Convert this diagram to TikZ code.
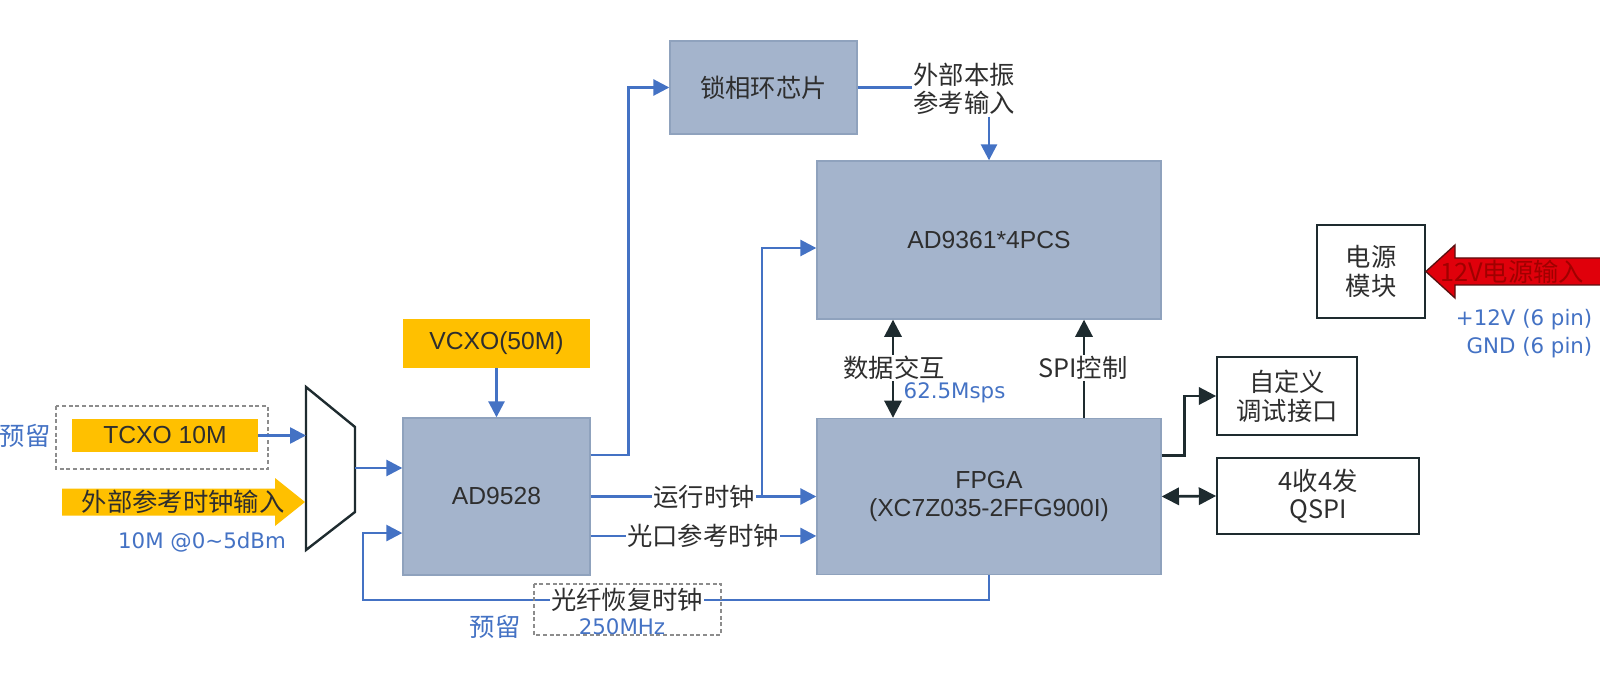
\documentclass[tikz,border=0pt]{standalone}
\usepackage{fontspec}
\setmainfont{Liberation Sans}
\newfontfamily\cjk{Noto Sans CJK SC}
\newfontfamily\bluefont{DejaVu Sans}
\usetikzlibrary{arrows.meta,calc}
\definecolor{boxblue}{HTML}{A4B4CC}
\definecolor{boxedge}{HTML}{8FA2BD}
\definecolor{gold}{HTML}{FFC000}
\definecolor{lineblue}{HTML}{4472C4}
\definecolor{darkc}{HTML}{1E2B2F}
\definecolor{txt}{HTML}{2E2E2E}
\definecolor{redarrow}{HTML}{E0000B}
\definecolor{redtxt}{HTML}{A00000}
\definecolor{redline}{HTML}{5A1010}
\definecolor{dashgray}{HTML}{8C8C8C}
\begin{document}
\begin{tikzpicture}[x=0.75pt,y=-0.75pt,
 cn/.style={font=\cjk\fontsize{19}{21.5}\selectfont, text=txt},
 ln/.style={font=\fontsize{18.5}{21.5}\selectfont, text=txt},
 bn/.style={font=\bluefont\fontsize{16}{19}\selectfont, text=lineblue},
 bcn/.style={font=\cjk\fontsize{19}{21.5}\selectfont, text=lineblue},
 chip/.style={draw=boxedge, line width=1pt, fill=boxblue, inner sep=0pt, align=center},
 osc/.style={fill=gold, inner sep=0pt},
 wbox/.style={draw=darkc, line width=1.3pt, fill=white, inner sep=0pt, align=center},
 bl/.style={draw=lineblue, line width=2pt, -{Triangle[length=12pt,width=12pt]}},
 blp/.style={draw=lineblue, line width=2pt},
 dk/.style={draw=darkc, line width=2pt, -{Triangle[length=13pt,width=13pt]}},
 dkk/.style={draw=darkc, line width=2pt, {Triangle[length=13pt,width=13pt]}-{Triangle[length=13pt,width=13pt]}},
 lab/.style={cn, fill=white, inner sep=1pt},
 dbox/.style={draw=dashgray, line width=1pt, dash pattern=on 3pt off 2pt}
]
\useasboundingbox (0,0) rectangle (1600,677);

% chips
\node[chip, cn, minimum width=140.25pt, minimum height=69.75pt] (pll) at (763.5,87.5) {锁相环芯片};
\node[chip, ln, minimum width=258pt, minimum height=118.5pt] (ad9361) at (989,240) {AD9361*4PCS};
\node[chip, ln, minimum width=258pt, minimum height=117pt] (fpga) at (989,496.5) {FPGA\\(XC7Z035-2FFG900I)};
\node[chip, ln, minimum width=140.25pt, minimum height=117.75pt] (ad9528) at (496.5,496.5) {AD9528};
\node[osc, ln, minimum width=140.25pt, minimum height=36.75pt] (vcxo) at (496.5,343.5) {VCXO(50M)};
\draw[dbox] (56,406) rectangle (268,469);
\node[osc, ln, minimum width=139.5pt, minimum height=24.75pt] (tcxo) at (165,435.5) {TCXO 10M};
\node[wbox, cn, minimum width=105pt, minimum height=58.5pt] (debug) at (1287,396) {自定义\\调试接口};
\node[wbox, cn, minimum width=151.5pt, minimum height=57pt] (qspi) at (1318,496) {4收4发\\QSPI};
\node[wbox, cn, minimum width=81pt, minimum height=69.75pt] (power) at (1371,271.5) {电源\\模块};

% mux
\draw[draw=darkc, line width=1.8pt, fill=white] (306,387) -- (355,427) -- (355,512) -- (306,550) -- cycle;
\coordinate (muxA) at (306,435.5);
\coordinate (muxO) at (355,468);

\node[bcn] (rsv1) at (25,436) {预留};

% external reference arrow
\fill[gold] (62,488.5) -- (275,488.5) -- (275,478) -- (305,502) -- (275,526) -- (275,515.5) -- (62,515.5) -- cycle;
\node[cn] (extref) at (183,502) {外部参考时钟输入};
\node[bn] (tenm) at (202,542) {10M @0\textasciitilde5dBm};

% blue connectors
\draw[bl] (tcxo.east) -- (muxA);
\draw[bl] (muxO) -- (ad9528.west |- muxO);
\draw[bl] (vcxo.south) -- (ad9528.north);
\draw[bl] ([yshift=31.1pt]ad9528.east) -- ++(38,0) |- (pll.west);
\draw[bl] (ad9528.east) -- (fpga.west);
\coordinate (jn) at (762,496.5);
\draw[bl] (jn) |- ([yshift=-6pt]ad9361.west);
\draw[bl] ([yshift=-29.6pt]ad9528.east) -- ([yshift=-29.6pt]fpga.west);
\coordinate (fbc) at (363,600);
\draw[bl] (fpga.south) |- (fbc) |- ([yshift=-27.4pt]ad9528.west);

\draw[dbox] (534,584) rectangle (721,635);
\node[lab] (runclk) at (704,496.5) {运行时钟};
\node[lab] (optclk) at (703,536) {光口参考时钟};
\node[lab] (fibclk) at (627,600) {光纤恢复时钟};
\node[bn] (mhz) at (622,627) {250MHz};
\node[bcn] (rsv2) at (495,627) {预留};

% LO input
\node[cn, align=center, inner sep=1pt] (lo) at (964,89) {外部本振\\参考输入};
\draw[blp] (pll.east) -- (pll.east -| lo.west);
\draw[bl] (lo.south -| ad9361.north) -- (ad9361.north);

% dark connectors
\draw[dkk] ([xshift=-72pt]ad9361.south) -- ([xshift=-72pt]fpga.north);
\node[lab] (dx) at (894,368) {数据交互};
\node[bn, anchor=west] (msps) at (899,393) {62.5Msps};
\draw[dk] ([xshift=71.25pt]fpga.north) -- ([xshift=71.25pt]ad9361.south);
\node[lab] (spi) at (1083,368) {SPI控制};
\draw[dk] ([yshift=31pt]fpga.east) -- ++(23,0) |- (debug.west);
\draw[dkk] (fpga.east) -- (qspi.west);

% power input arrow
\draw[draw=redline, line width=1pt, fill=redarrow] (1601,258) -- (1455,258) -- (1455,245) -- (power.east) -- (1455,298) -- (1455,285) -- (1601,285);
\node[cn, text=redtxt] (pin) at (1512,271.5) {12V电源输入};
\node[bn, anchor=east] (v12) at (1597,320) {+12V (6 pin)};
\node[bn, anchor=east] (gnd) at (1597,348) {GND (6 pin)};
\end{tikzpicture}
\end{document}
